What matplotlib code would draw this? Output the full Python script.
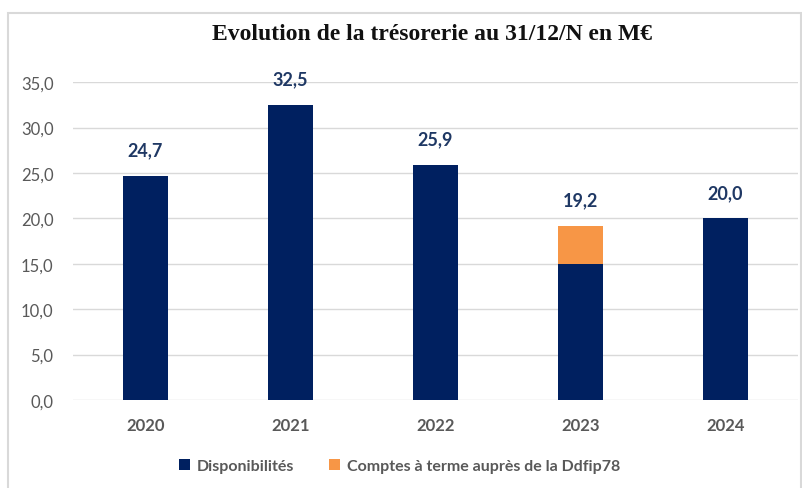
import matplotlib.pyplot as plt
from matplotlib.patches import Rectangle

# data
years = ["2020", "2021", "2022", "2023", "2024"]
disponibilites = [24.7, 32.5, 25.9, 15.0, 20.0]
comptes_terme = [0.0, 0.0, 0.0, 4.2, 0.0]
totals = [24.7, 32.5, 25.9, 19.2, 20.0]
yticks = [0, 5, 10, 15, 20, 25, 30, 35]

navy = "#002060"
orange = "#F79646"
label_col = "#1F3864"
grey_txt = "#595959"
grid_col = "#D9D9D9"

plt.rcParams['font.family'] = ['Lato', 'DejaVu Sans']

fig = plt.figure(figsize=(8.02, 4.89), dpi=100)
ax = fig.add_axes([0.091, 0.180, 0.904, 0.650])

x = range(len(years))
ax.bar(x, disponibilites, width=0.31, color=navy, zorder=3, label="Disponibilités")
ax.bar(x, comptes_terme, width=0.31, bottom=disponibilites, color=orange, zorder=3,
       label="Comptes à terme auprès de la Ddfip78")

for i, t in enumerate(totals):
    ax.text(i, t + 1.9, f"{t:.1f}".replace(".", ","), ha="center", va="bottom",
            fontsize=13, fontweight="bold", color=label_col)

ax.set_xlim(-0.5, len(years) - 0.5)
ax.set_ylim(0, 35)
ax.set_yticks(yticks)
ax.set_yticklabels([f"{v:.1f}".replace(".", ",") for v in yticks], fontsize=12, color=grey_txt)
ax.set_xticks(list(x))
ax.set_xticklabels(years, fontsize=12, fontweight="bold", color=grey_txt)
ax.tick_params(axis="both", length=0)
ax.tick_params(axis="y", pad=14)
ax.tick_params(axis="x", pad=12)
ax.grid(axis="y", color=grid_col, linewidth=1, zorder=0)
for s in ax.spines.values():
    s.set_visible(False)

fig.text(0.539, 0.93, "Evolution de la trésorerie au 31/12/N en M€", ha="center", va="center",
         fontsize=17, fontweight="bold", family=["Liberation Serif", "DejaVu Serif"], color="#111111")

leg = fig.legend(loc="center", bbox_to_anchor=(0.498, 0.045), ncol=2, frameon=False,
                 prop={"size": 11.5, "weight": "bold"}, handlelength=0.7, handleheight=0.7,
                 handletextpad=0.4, columnspacing=2.2)
for t in leg.get_texts():
    t.set_color(grey_txt)

# chart frame
fig.patches.append(Rectangle((8 / 802, -0.01), 793 / 802, 1 - 14 / 489 + 0.01,
                             transform=fig.transFigure, fill=False,
                             edgecolor=grid_col, linewidth=1.5))

fig.savefig("out.png", dpi=100)
